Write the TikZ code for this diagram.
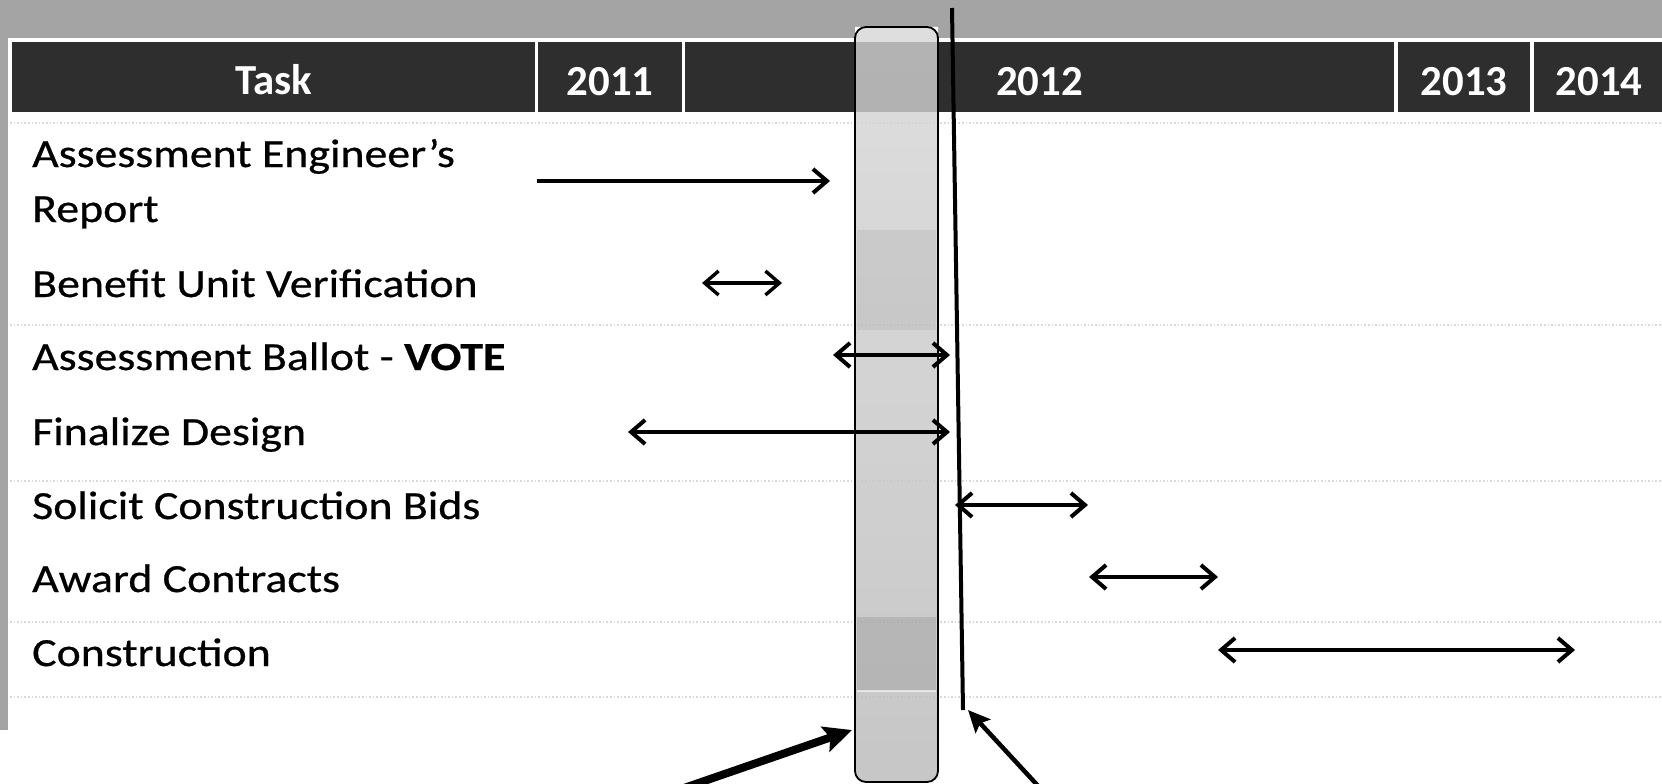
\documentclass[tikz,border=0pt]{standalone}
\usepackage{fontspec}
\setmainfont{Carlito}
\newfontfamily\lblfont[FakeStretch=1.15, FakeBold=0.6]{Carlito}
\usetikzlibrary{arrows.meta}
\definecolor{hdr}{HTML}{2E2E2E}
\definecolor{scan}{HTML}{A4A4A4}
\tikzset{barb/.tip={Straight Barb[length=14bp,width=24bp]}}
\begin{document}
\begin{tikzpicture}[x=1bp,y=-1bp,
  lbl/.style={anchor=base west, inner sep=0pt, font=\lblfont\fontsize{40}{44}\selectfont},
  hcell/.style={fill=hdr, draw=none, inner sep=0pt, minimum height=70bp},
  htext/.style={anchor=base, inner sep=0pt, text=white, font=\fontsize{43}{46}\selectfont\bfseries},
  span/.style={line width=4bp, barb-barb},
  onlyto/.style={line width=4bp, -barb},
  faint/.style={gray!30, line width=1.6bp, dotted},
  pointer/.style={-{Stealth[length=28bp,width=26bp,inset=5bp]}}
]
\useasboundingbox (0,0) rectangle (1662,784);
\clip (0,0) rectangle (1662,784);
\fill[white] (0,0) rectangle (1662,784);
% scan borders
\fill[scan] (0,0) rectangle (1662,38);
\fill[scan] (0,0) rectangle (8,730);
% faint row traces
\foreach \yy in {123,325,481,622,697}
  \draw[faint] (10,\yy) -- (1662,\yy);
% header cells
\node[hcell, minimum width=523bp] (ctask) at (273.5,77) {};
\node[hcell, minimum width=144bp] (c2011) at (610,77) {};
\node[hcell, minimum width=709bp] (c2012) at (1039.5,77) {};
\node[hcell, minimum width=132bp] (c2013) at (1464,77) {};
\node[hcell, minimum width=128bp] (c2014) at (1598,77) {};
\node[htext] (ttask) at (273.5,94) {Task};
\node[htext] (t2011) at (610,95) {2011};
\node[htext] (t2012) at (1039.5,95) {2012};
\node[htext] (t2013) at (1464,95) {2013};
\node[htext] (t2014) at (1599,95) {2014};
% highlight column
\fill[white, rounded corners=11bp] (855,27) -- (855,42) -- (938,42) [sharp corners] -- (938,27) -- cycle;
\fill[white] (856,38) rectangle (937,42);
\node[draw=black, line width=1.8bp, rounded corners=11bp, inner sep=0pt,
      minimum width=83bp, minimum height=755bp,
      top color=gray!32, bottom color=gray!55, fill opacity=0.8] (hl) at (896.5,404.5) {};
\fill[black, opacity=0.10] (857,617) rectangle (936,691);
\fill[black, opacity=0.06] (857,230) rectangle (936,330);
\draw[white, opacity=0.6, line width=1.5bp] (857,691) -- (936,691);
% today line
\coordinate (ttop) at (952,8);
\coordinate (tbot) at (963,710);
\draw[line width=4bp] (ttop) -- (tbot);
% task labels
\node[lbl] (l1) at (32,167) {Assessment Engineer’s};
\node[lbl] (l1b) at (32,222) {Report};
\node[lbl] (l2) at (32,297) {Benefit Unit Verification};
\node[lbl] (l3) at (32,370) {Assessment Ballot - \textbf{VOTE}};
\node[lbl] (l4) at (32,445) {Finalize Design};
\node[lbl] (l5) at (32,519) {Solicit Construction Bids};
\node[lbl] (l6) at (32,592) {Award Contracts};
\node[lbl] (l7) at (32,666) {Construction};
% schedule arrows
\coordinate (a1s) at (537,181);  \coordinate (a1e) at (830,181);
\coordinate (a2s) at (702,283);  \coordinate (a2e) at (782,283);
\coordinate (a3s) at (833,355);  \coordinate (a3e) at (950,355);
\coordinate (a4s) at (628,432);  \coordinate (a4e) at (950,432);
\coordinate (a5s) at (955,505);  \coordinate (a5e) at (1088,505);
\coordinate (a6s) at (1089,577); \coordinate (a6e) at (1218,577);
\coordinate (a7s) at (1218,650); \coordinate (a7e) at (1575,650);
\draw[onlyto] (a1s) -- (a1e);
\draw[span, line width=3.4bp] (a2s) -- (a2e);
\draw[span] (a3s) -- (a3e);
\draw[span] (a4s) -- (a4e);
\draw[span] (a5s) -- (a5e);
\draw[span] (a6s) -- (a6e);
\draw[span] (a7s) -- (a7e);
% pointers from below
\coordinate (p1s) at (684,788); \coordinate (p1e) at (852,730);
\coordinate (p2s) at (1040,788); \coordinate (p2e) at (968,710);
\draw[pointer, line width=8bp] (p1s) -- (p1e);
\draw[line width=4.5bp, -{Stealth[length=22bp,width=20bp,inset=4bp]}] (p2s) -- (p2e);
\end{tikzpicture}
\end{document}
